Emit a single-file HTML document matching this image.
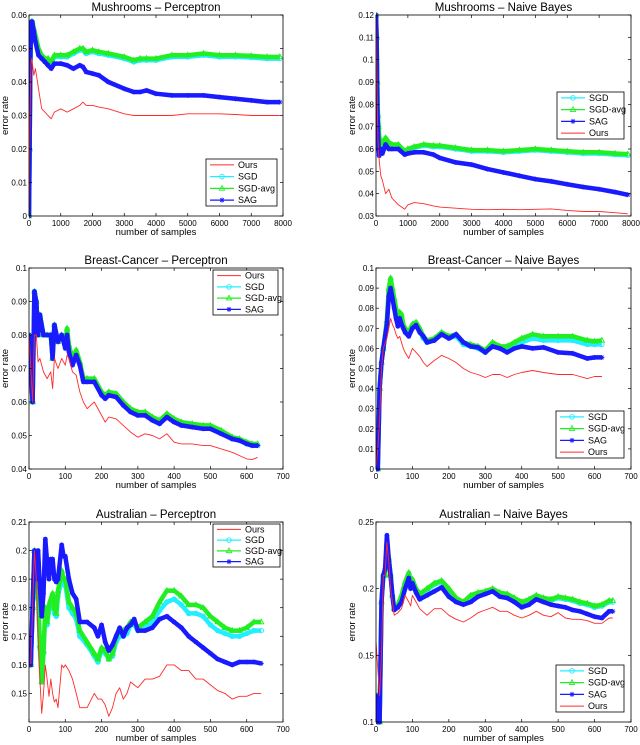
<!DOCTYPE html>
<html><head><meta charset="utf-8"><style>
body{margin:0;background:#fff;width:640px;height:745px;overflow:hidden}
svg{display:block;font-family:"Liberation Sans",sans-serif}
</style></head><body>
<svg id="fig" width="640" height="745"></svg>
<script>
// ---- data ----
const p1X=[0,20,40,60,80,100,150,200,300,400,500,600,700,800,1000,1200,1400,1600,1700,1800,2000,2200,2500,3000,3300,3500,3700,4000,4500,5000,5500,6000,6500,7000,7500,7900];
const p1Ours=[0,0.02,0.035,0.045,0.047,0.046,0.042,0.044,0.038,0.032,0.031,0.030,0.029,0.031,0.032,0.031,0.032,0.033,0.034,0.033,0.033,0.0325,0.032,0.0305,0.030,0.030,0.030,0.030,0.030,0.0305,0.0305,0.0305,0.0303,0.030,0.030,0.030];
const p1Avg=[0,0.02,0.045,0.055,0.058,0.058,0.056,0.054,0.050,0.048,0.047,0.047,0.046,0.048,0.048,0.048,0.049,0.050,0.050,0.049,0.0495,0.049,0.0485,0.0475,0.0465,0.047,0.047,0.047,0.048,0.048,0.0485,0.048,0.048,0.0478,0.0475,0.0475];
const p1Sgd=[0,0.02,0.045,0.055,0.058,0.058,0.0555,0.0535,0.0495,0.0475,0.0465,0.0465,0.0455,0.0475,0.0475,0.0475,0.0485,0.0495,0.0495,0.0485,0.049,0.0485,0.048,0.047,0.046,0.0465,0.0465,0.0465,0.0475,0.0475,0.048,0.0475,0.0475,0.0473,0.047,0.047];
const p1Sag=[0,0.02,0.045,0.055,0.058,0.058,0.055,0.052,0.048,0.047,0.046,0.045,0.044,0.0455,0.0455,0.045,0.044,0.045,0.0445,0.043,0.0425,0.042,0.040,0.038,0.037,0.037,0.0375,0.0365,0.036,0.036,0.036,0.0355,0.035,0.0345,0.034,0.034];

const p2X=[0,20,40,60,80,100,150,200,300,400,500,700,900,1000,1200,1500,1800,2000,2500,3000,3500,4000,4500,5000,5500,6000,6500,7000,7500,7900];
const p2Ours=[0.12,0.10,0.08,0.065,0.058,0.055,0.048,0.046,0.040,0.042,0.038,0.035,0.033,0.035,0.036,0.0355,0.0345,0.034,0.0335,0.033,0.0328,0.033,0.0328,0.033,0.0332,0.0325,0.032,0.032,0.0315,0.031];
const p2Avg=[0.12,0.11,0.09,0.075,0.07,0.065,0.062,0.063,0.065,0.063,0.062,0.062,0.059,0.060,0.061,0.062,0.0615,0.0615,0.0605,0.0595,0.0595,0.059,0.0595,0.06,0.0595,0.059,0.0585,0.0585,0.058,0.0577];
const p2Sgd=[0.12,0.11,0.09,0.075,0.07,0.065,0.0615,0.0625,0.0645,0.0625,0.0615,0.0615,0.0585,0.0595,0.0605,0.0615,0.061,0.061,0.06,0.059,0.059,0.0585,0.059,0.0595,0.059,0.0585,0.058,0.058,0.0575,0.0572];
const p2Sag=[0.12,0.11,0.08,0.07,0.06,0.057,0.06,0.058,0.062,0.060,0.060,0.060,0.0575,0.058,0.0585,0.0585,0.0575,0.056,0.054,0.053,0.051,0.0495,0.048,0.0465,0.0455,0.0442,0.043,0.042,0.0407,0.0395];

const p3X=[0,10,15,20,25,30,40,50,60,65,70,80,90,100,105,110,120,130,140,150,160,180,200,210,220,240,260,280,300,320,340,360,380,400,420,450,480,500,530,560,580,600,615,630];
const p3Ours=[0.08,0.06,0.08,0.08,0.072,0.073,0.069,0.067,0.069,0.064,0.073,0.070,0.073,0.071,0.074,0.073,0.069,0.068,0.063,0.060,0.058,0.060,0.056,0.054,0.0555,0.055,0.053,0.051,0.0495,0.0505,0.050,0.049,0.0505,0.048,0.0475,0.0475,0.047,0.047,0.046,0.045,0.044,0.043,0.0428,0.0435];
const p3Sag=[0.08,0.06,0.093,0.09,0.08,0.086,0.08,0.08,0.08,0.073,0.083,0.078,0.08,0.076,0.08,0.075,0.071,0.074,0.071,0.066,0.066,0.066,0.062,0.061,0.062,0.0615,0.059,0.057,0.056,0.056,0.0545,0.0535,0.0555,0.054,0.053,0.0525,0.052,0.052,0.0505,0.049,0.0485,0.0475,0.047,0.047];
const p3Avg=[0.08,0.06,0.093,0.09,0.08,0.086,0.08,0.08,0.08,0.073,0.083,0.078,0.08,0.078,0.082,0.077,0.073,0.0755,0.072,0.067,0.067,0.067,0.063,0.062,0.063,0.0625,0.06,0.058,0.057,0.057,0.0555,0.0545,0.0565,0.055,0.054,0.0535,0.053,0.053,0.0515,0.0495,0.049,0.048,0.0475,0.0475];
const p3Sgd=[0.08,0.06,0.093,0.09,0.08,0.086,0.08,0.08,0.08,0.073,0.083,0.078,0.08,0.077,0.081,0.076,0.072,0.075,0.0715,0.0665,0.0665,0.0665,0.0625,0.0615,0.0625,0.062,0.0595,0.0575,0.0565,0.0565,0.055,0.054,0.056,0.0545,0.0535,0.053,0.0525,0.0525,0.051,0.049,0.0485,0.0475,0.047,0.047];

const p4X=[0,5,10,15,20,30,35,40,45,50,55,60,65,70,75,80,90,100,110,120,130,140,160,180,200,220,240,260,280,300,320,340,360,380,400,430,460,500,540,580,600,620];
const p4Ours=[0,0.01,0.025,0.05,0.06,0.065,0.07,0.075,0.072,0.07,0.067,0.065,0.066,0.063,0.06,0.058,0.055,0.06,0.058,0.056,0.053,0.051,0.054,0.0565,0.055,0.053,0.050,0.048,0.047,0.0455,0.047,0.047,0.0455,0.047,0.048,0.049,0.048,0.047,0.047,0.045,0.046,0.046];
const p4Sag=[0,0,0.04,0.053,0.06,0.072,0.086,0.09,0.085,0.08,0.075,0.071,0.075,0.072,0.07,0.068,0.066,0.07,0.0715,0.068,0.066,0.063,0.064,0.067,0.065,0.067,0.063,0.061,0.0605,0.058,0.061,0.06,0.058,0.06,0.061,0.06,0.0605,0.058,0.0575,0.055,0.0555,0.0555];
const p4Avg=[0,0,0.04,0.053,0.06,0.074,0.09,0.095,0.09,0.085,0.08,0.075,0.078,0.077,0.072,0.07,0.068,0.072,0.073,0.07,0.066,0.064,0.065,0.068,0.066,0.067,0.063,0.062,0.061,0.059,0.063,0.061,0.061,0.063,0.065,0.067,0.066,0.066,0.066,0.064,0.0635,0.064];
const p4Sgd=[0,0,0.04,0.053,0.06,0.073,0.088,0.092,0.088,0.083,0.078,0.073,0.076,0.075,0.071,0.069,0.067,0.071,0.072,0.069,0.065,0.063,0.064,0.067,0.065,0.066,0.062,0.061,0.06,0.058,0.062,0.06,0.06,0.062,0.063,0.065,0.064,0.064,0.064,0.062,0.062,0.062];

const p5X=[0,5,10,15,20,25,30,35,40,45,50,55,60,65,70,75,80,90,95,100,110,120,130,140,160,180,190,200,210,220,230,240,250,260,270,280,290,300,320,340,360,380,400,420,440,460,480,500,520,540,560,580,600,620,640];
const p5Ours=[0.16,0.16,0.18,0.20,0.19,0.17,0.155,0.143,0.15,0.16,0.155,0.149,0.155,0.15,0.147,0.148,0.145,0.16,0.159,0.16,0.158,0.155,0.15,0.145,0.145,0.15,0.148,0.148,0.146,0.142,0.145,0.15,0.152,0.148,0.15,0.154,0.153,0.152,0.155,0.155,0.156,0.16,0.16,0.158,0.158,0.155,0.155,0.153,0.151,0.15,0.148,0.149,0.149,0.15,0.15];
const p5Sag=[0.16,0.16,0.18,0.20,0.19,0.20,0.187,0.177,0.185,0.204,0.196,0.19,0.197,0.197,0.19,0.189,0.19,0.202,0.198,0.198,0.19,0.185,0.183,0.175,0.175,0.173,0.17,0.174,0.168,0.165,0.167,0.17,0.173,0.17,0.173,0.174,0.176,0.172,0.172,0.173,0.176,0.177,0.175,0.173,0.17,0.168,0.166,0.164,0.162,0.161,0.16,0.161,0.161,0.161,0.1605];
const p5Avg=[0.16,0.16,0.18,0.20,0.19,0.184,0.167,0.154,0.165,0.18,0.175,0.181,0.183,0.185,0.18,0.178,0.186,0.193,0.19,0.19,0.182,0.18,0.178,0.172,0.168,0.164,0.162,0.166,0.165,0.162,0.164,0.17,0.172,0.172,0.173,0.175,0.175,0.173,0.175,0.177,0.182,0.186,0.186,0.184,0.181,0.181,0.18,0.177,0.175,0.173,0.172,0.172,0.173,0.175,0.175];
const p5Sgd=[0.16,0.16,0.18,0.20,0.19,0.183,0.166,0.154,0.164,0.178,0.174,0.179,0.181,0.183,0.178,0.177,0.184,0.19,0.188,0.188,0.18,0.178,0.176,0.17,0.167,0.163,0.161,0.165,0.164,0.162,0.163,0.168,0.17,0.17,0.171,0.174,0.174,0.172,0.173,0.175,0.179,0.182,0.183,0.181,0.178,0.178,0.177,0.174,0.172,0.171,0.17,0.17,0.171,0.172,0.172];

const p6X=[0,5,10,15,20,25,30,35,40,45,50,60,70,80,90,95,100,110,120,140,160,180,200,220,240,260,280,300,320,340,360,380,400,420,440,460,480,500,520,540,560,580,600,620,640,650];
const p6Ours=[0.16,0.14,0.12,0.15,0.21,0.21,0.235,0.22,0.2,0.19,0.18,0.182,0.185,0.195,0.19,0.187,0.195,0.19,0.185,0.18,0.185,0.185,0.18,0.177,0.175,0.178,0.182,0.184,0.186,0.183,0.183,0.18,0.178,0.18,0.183,0.18,0.179,0.182,0.178,0.177,0.177,0.176,0.174,0.174,0.178,0.178];
const p6Sag=[0.12,0.10,0.10,0.19,0.21,0.215,0.24,0.222,0.21,0.195,0.184,0.186,0.19,0.2,0.208,0.2,0.204,0.197,0.192,0.195,0.198,0.201,0.194,0.19,0.188,0.19,0.194,0.196,0.198,0.194,0.193,0.19,0.186,0.188,0.192,0.19,0.188,0.187,0.186,0.184,0.183,0.181,0.179,0.178,0.183,0.183];
const p6Avg=[0.12,0.10,0.10,0.19,0.21,0.21,0.233,0.222,0.21,0.195,0.185,0.188,0.195,0.205,0.212,0.205,0.207,0.2,0.196,0.2,0.204,0.206,0.2,0.193,0.19,0.195,0.197,0.198,0.2,0.197,0.196,0.193,0.19,0.192,0.195,0.193,0.192,0.194,0.193,0.192,0.19,0.189,0.187,0.188,0.191,0.191];
const p6Sgd=[0.12,0.10,0.10,0.19,0.21,0.21,0.233,0.222,0.21,0.195,0.185,0.187,0.194,0.204,0.211,0.204,0.206,0.199,0.195,0.199,0.203,0.205,0.199,0.192,0.189,0.194,0.196,0.197,0.199,0.196,0.195,0.192,0.189,0.191,0.194,0.192,0.191,0.193,0.192,0.191,0.189,0.188,0.186,0.187,0.19,0.19];

const xTicks8000=[0,1000,2000,3000,4000,5000,6000,7000,8000];
const xTicks700=[0,100,200,300,400,500,600,700];

// ---- drawing ----
const NS='http://www.w3.org/2000/svg';
const svg=document.getElementById('fig');
function mk(tag,attrs,parent){const e=document.createElementNS(NS,tag);for(const k in attrs)e.setAttribute(k,attrs[k]);(parent||svg).appendChild(e);return e;}
function fmt(v){return String(+v.toFixed(4));}
const COL={ours:'#ff2a2a',sgd:'#22eeff',avg:'#22ee22',sag:'#1a1aff'};
function marker(g,type,x,y){
  if(type==='sgd'){mk('circle',{cx:x,cy:y,r:2.3,fill:'none',stroke:COL.sgd,'stroke-width':0.9},g);}
  else if(type==='avg'){mk('path',{d:`M${x},${y-2.8}L${x+2.6},${y+1.8}L${x-2.6},${y+1.8}Z`,fill:'none',stroke:COL.avg,'stroke-width':0.9},g);}
  else if(type==='sag'){mk('path',{d:`M${x-2.5},${y}H${x+2.5}M${x},${y-2.5}V${y+2.5}M${x-1.8},${y-1.8}L${x+1.8},${y+1.8}M${x-1.8},${y+1.8}L${x+1.8},${y-1.8}`,stroke:COL.sag,'stroke-width':0.9},g);}
}
function panel(cfg){
  const g=mk('g',{});
  
  
  const {L,R,T,B,x0,x1,y0,y1}=cfg;
  const sx=v=>L+(v-x0)/(x1-x0)*(R-L);
  const sy=v=>B-(v-y0)/(y1-y0)*(B-T);
  const t=mk('text',{x:(L+R)/2,y:T-4,'text-anchor':'middle','font-size':11.5},g);t.textContent=cfg.title;
  
  mk('rect',{x:L,y:T,width:R-L,height:B-T,fill:'#fff',stroke:'none'},g);
  const clipId='c'+cfg.name;
  const cp=mk('clipPath',{id:clipId},g);mk('rect',{x:L,y:T-3,width:R-L,height:B-T+6},cp);
  const plot=mk('g',{'clip-path':`url(#${clipId})`},g);
  
  const order=['sgd','avg','sag','ours'];
  order.forEach(k=>{
    const ys=cfg.series[k];const xs=cfg.x;
    const pts=xs.map((v,i)=>sx(v).toFixed(1)+','+sy(ys[i]).toFixed(1)).join(' ');
    const sg=mk('g',{},plot);
    
    if(k!=='ours'){mk('polyline',{points:pts,fill:'none',stroke:COL[k],'stroke-width':4.5,'stroke-linejoin':'round'},sg);}
    mk('polyline',{points:pts,fill:'none',stroke:COL[k],'stroke-width':k==='ours'?0.9:1,'stroke-linejoin':'round'},sg);
    if(k!=='ours')xs.forEach((v,i)=>marker(sg,k,sx(v),sy(ys[i])));
  });
  mk('rect',{x:L,y:T,width:R-L,height:B-T,fill:'none',stroke:'#000','stroke-width':0.8},g);
  cfg.xt.forEach(v=>{const x=sx(v);
    mk('line',{x1:x,x2:x,y1:B,y2:B-3,stroke:'#000','stroke-width':0.7},g);
    mk('line',{x1:x,x2:x,y1:T,y2:T+3,stroke:'#000','stroke-width':0.7},g);
    const tx=mk('text',{x:x,y:B+10,'text-anchor':'middle','font-size':8},g);tx.textContent=fmt(v);
    });
  cfg.yt.forEach(v=>{const y=sy(v);
    mk('line',{x1:L,x2:L+3,y1:y,y2:y,stroke:'#000','stroke-width':0.7},g);
    mk('line',{x1:R,x2:R-3,y1:y,y2:y,stroke:'#000','stroke-width':0.7},g);
    const ty=mk('text',{x:L-2,y:y+3,'text-anchor':'end','font-size':8},g);ty.textContent=fmt(v);
    });
  const xl=mk('text',{x:(L+R)/2,y:B+19,'text-anchor':'middle','font-size':9.5},g);xl.textContent='number of samples';
  
  const yx=L-21,yy=(T+B)/2;
  const yl=mk('text',{x:yx,y:yy,'text-anchor':'middle','font-size':9.5,transform:`rotate(-90 ${yx} ${yy})`},g);yl.textContent='error rate';
  
  // legend
  const lg=mk('g',{},g);
  
  const [lx,ly,lw,lh]=cfg.leg;
  mk('rect',{x:lx,y:ly,width:lw,height:lh,fill:'#fff',stroke:'#000','stroke-width':0.8},lg);
  const labels={ours:'Ours',sgd:'SGD',avg:'SGD-avg',sag:'SAG'};
  const step=lh/4;
  cfg.legOrder.forEach((k,i)=>{
    const y=ly+step*(i+0.5);
    const e=mk('g',{},lg);
    
    mk('line',{x1:lx+4,x2:lx+28,y1:y,y2:y,stroke:COL[k],'stroke-width':k==='ours'?0.9:1.2},e);
    if(k!=='ours')marker(e,k,lx+16,y);
    const tt=mk('text',{x:lx+32,y:y+3,'font-size':9},e);tt.textContent=labels[k];
  });
}
const A=['ours','sgd','avg','sag'],Bo=['sgd','avg','sag','ours'];
panel({name:'mushrooms-perceptron',title:'Mushrooms \u2013 Perceptron',L:29,R:283,T:15,B:216,x0:0,x1:8000,y0:0,y1:0.06,xt:xTicks8000,yt:[0,0.01,0.02,0.03,0.04,0.05,0.06],x:p1X,series:{ours:p1Ours,sgd:p1Sgd,avg:p1Avg,sag:p1Sag},leg:[206,159,71,47],legOrder:A});
panel({name:'mushrooms-naive-bayes',title:'Mushrooms \u2013 Naive Bayes',L:376,R:631,T:15,B:216,x0:0,x1:8000,y0:0.03,y1:0.12,xt:xTicks8000,yt:[0.03,0.04,0.05,0.06,0.07,0.08,0.09,0.1,0.11,0.12],x:p2X,series:{ours:p2Ours,sgd:p2Sgd,avg:p2Avg,sag:p2Sag},leg:[557,92,67,47],legOrder:Bo});
panel({name:'breast-cancer-perceptron',title:'Breast-Cancer \u2013 Perceptron',L:29,R:283,T:268,B:469,x0:0,x1:700,y0:0.04,y1:0.1,xt:xTicks700,yt:[0.04,0.05,0.06,0.07,0.08,0.09,0.1],x:p3X,series:{ours:p3Ours,sgd:p3Sgd,avg:p3Avg,sag:p3Sag},leg:[213,270,65,45],legOrder:A});
panel({name:'breast-cancer-naive-bayes',title:'Breast-Cancer \u2013 Naive Bayes',L:376,R:631,T:268,B:469,x0:0,x1:700,y0:0,y1:0.1,xt:xTicks700,yt:[0,0.01,0.02,0.03,0.04,0.05,0.06,0.07,0.08,0.09,0.1],x:p4X,series:{ours:p4Ours,sgd:p4Sgd,avg:p4Avg,sag:p4Sag},leg:[556,411,68,47],legOrder:Bo});
panel({name:'australian-perceptron',title:'Australian \u2013 Perceptron',L:29,R:283,T:522,B:722,x0:0,x1:700,y0:0.14,y1:0.21,xt:xTicks700,yt:[0.15,0.16,0.17,0.18,0.19,0.2,0.21],x:p5X,series:{ours:p5Ours,sgd:p5Sgd,avg:p5Avg,sag:p5Sag},leg:[213,524,67,43],legOrder:A});
panel({name:'australian-naive-bayes',title:'Australian \u2013 Naive Bayes',L:376,R:631,T:522,B:722,x0:0,x1:700,y0:0.1,y1:0.25,xt:xTicks700,yt:[0.1,0.15,0.2,0.25],x:p6X,series:{ours:p6Ours,sgd:p6Sgd,avg:p6Avg,sag:p6Sag},leg:[556,665,68,47],legOrder:Bo});
</script>
</body></html>
